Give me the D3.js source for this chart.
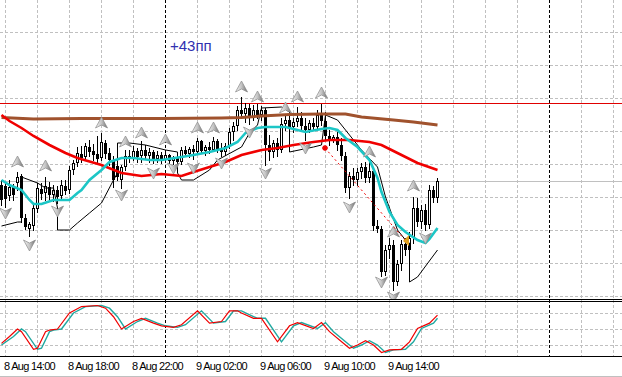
<!DOCTYPE html>
<html>
<head>
<meta charset="utf-8">
<script src="https://d3js.org/d3.v7.min.js"></script>
<style>
  body { margin: 0; background: #fff; }
  svg { display: block; }
  text { font-family: "Liberation Sans", Arial, sans-serif; }
</style>
</head>
<body>
<div id="chart"></div>
<script>
// M15 bars, first one is 8 Aug 13:45
const open = [1.1215,1.1214,1.1204,1.1213,1.1217,1.1224,1.1182,1.1171,1.1174,1.1191,
  1.1211,1.1207,1.1213,1.1205,1.1210,1.1204,1.1214,1.1210,1.1230,1.1237,
  1.1246,1.1243,1.1253,1.1249,1.1246,1.1242,1.1257,1.1247,1.1240,1.1234,
  1.1220,1.1233,1.1244,1.1242,1.1249,1.1244,1.1250,1.1244,1.1248,1.1241,
  1.1245,1.1240,1.1245,1.1239,1.1242,1.1238,1.1250,1.1246,1.1251,1.1248,
  1.1259,1.1249,1.1253,1.1250,1.1259,1.1251,1.1248,1.1254,1.1268,1.1274,
  1.1290,1.1286,1.1292,1.1282,1.1290,1.1285,1.1290,1.1255,1.1248,1.1257,
  1.1250,1.1276,1.1280,1.1273,1.1278,1.1282,1.1274,1.1270,1.1277,1.1273,
  1.1285,1.1279,1.1264,1.1260,1.1263,1.1255,1.1244,1.1212,1.1224,1.1220,
  1.1228,1.1233,1.1222,1.1229,1.1174,1.1171,1.1128,1.1150,1.1155,1.1118,
  1.1136,1.1156,1.1150,1.1162,1.1192,1.1178,1.1190,1.1175,1.1210,1.1202];
const high = [1.1220,1.1217,1.1220,1.1216,1.1228,1.1226,1.1186,1.1178,1.1195,1.1217,
  1.1217,1.1223,1.1218,1.1215,1.1214,1.1220,1.1220,1.1234,1.1240,1.1253,
  1.1254,1.1257,1.1260,1.1256,1.1264,1.1267,1.1260,1.1252,1.1244,1.1238,
  1.1235,1.1250,1.1250,1.1254,1.1252,1.1259,1.1255,1.1252,1.1250,1.1249,
  1.1248,1.1250,1.1246,1.1244,1.1244,1.1253,1.1254,1.1253,1.1255,1.1262,
  1.1260,1.1255,1.1258,1.1263,1.1261,1.1257,1.1257,1.1272,1.1278,1.1294,
  1.1303,1.1297,1.1296,1.1295,1.1296,1.1294,1.1292,1.1265,1.1260,1.1262,
  1.1282,1.1285,1.1284,1.1282,1.1293,1.1288,1.1282,1.1280,1.1282,1.1290,
  1.1296,1.1288,1.1270,1.1265,1.1268,1.1262,1.1248,1.1228,1.1232,1.1232,
  1.1237,1.1238,1.1238,1.1232,1.1180,1.1174,1.1155,1.1162,1.1160,1.1140,
  1.1160,1.1162,1.1168,1.1203,1.1202,1.1195,1.1196,1.1215,1.1214,1.1222];
const low = [1.1195,1.1193,1.1200,1.1200,1.1210,1.1178,1.1171,1.1164,1.1170,1.1188,
  1.1201,1.1200,1.1201,1.1199,1.1197,1.1201,1.1206,1.1207,1.1226,1.1234,
  1.1238,1.1240,1.1244,1.1240,1.1237,1.1240,1.1242,1.1235,1.1213,1.1220,
  1.1212,1.1230,1.1238,1.1240,1.1238,1.1238,1.1242,1.1238,1.1237,1.1238,
  1.1237,1.1238,1.1237,1.1236,1.1235,1.1236,1.1244,1.1243,1.1241,1.1246,
  1.1247,1.1245,1.1247,1.1249,1.1248,1.1244,1.1245,1.1252,1.1260,1.1270,
  1.1282,1.1278,1.1276,1.1280,1.1282,1.1280,1.1235,1.1240,1.1243,1.1244,
  1.1248,1.1270,1.1270,1.1268,1.1274,1.1270,1.1260,1.1268,1.1270,1.1272,
  1.1275,1.1260,1.1255,1.1258,1.1250,1.1240,1.1208,1.1202,1.1215,1.1215,
  1.1222,1.1218,1.1218,1.1170,1.1168,1.1124,1.1125,1.1142,1.1110,1.1115,
  1.1130,1.1145,1.1146,1.1157,1.1174,1.1172,1.1170,1.1172,1.1198,1.1198];
const close = [1.1200,1.1201,1.1213,1.1205,1.1223,1.1182,1.1173,1.1176,1.1192,1.1212,
  1.1206,1.1214,1.1205,1.1210,1.1203,1.1215,1.1209,1.1230,1.1237,1.1247,
  1.1242,1.1254,1.1248,1.1245,1.1241,1.1258,1.1246,1.1240,1.1220,1.1223,
  1.1233,1.1244,1.1242,1.1249,1.1243,1.1250,1.1244,1.1248,1.1241,1.1245,
  1.1240,1.1245,1.1239,1.1242,1.1238,1.1250,1.1246,1.1251,1.1248,1.1259,
  1.1249,1.1253,1.1250,1.1259,1.1251,1.1248,1.1254,1.1268,1.1274,1.1290,
  1.1286,1.1292,1.1282,1.1290,1.1285,1.1290,1.1255,1.1248,1.1257,1.1250,
  1.1276,1.1280,1.1273,1.1278,1.1282,1.1274,1.1270,1.1277,1.1273,1.1285,
  1.1279,1.1264,1.1260,1.1263,1.1255,1.1244,1.1212,1.1224,1.1220,1.1228,
  1.1233,1.1222,1.1229,1.1174,1.1171,1.1128,1.1150,1.1155,1.1118,1.1136,
  1.1156,1.1150,1.1162,1.1192,1.1178,1.1190,1.1175,1.1210,1.1202,1.1219];

// moving averages as [bar, price]
const maSlow = [[0,1.12825],[8,1.1281],[20,1.12815],[40,1.12815],[55,1.1282],[60,1.12825],
  [65,1.1284],[72,1.12855],[80,1.1286],[86,1.1286],[90,1.1283],[98,1.1280],[103,1.1278],[109,1.1275]];
const maMid = [[0,1.1285],[2,1.1279],[5,1.1272],[8,1.1264],[12,1.1255],[16,1.1247],[19,1.1242],
  [25,1.1235],[30,1.1227],[35,1.1224],[40,1.1226],[45,1.1224],[48,1.1228],[52,1.1233],[56,1.1238],
  [60,1.1245],[65,1.1250],[69,1.1252],[73,1.1255],[78,1.1258],[82,1.1260],[87,1.1260],[92,1.1258],
  [95,1.1255],[100,1.1245],[104,1.1237],[109,1.1230]];
const maFast = [[0,1.1220],[2,1.1215],[5,1.1210],[7,1.1200],[8,1.1196],[10,1.1196],[13,1.1200],
  [17,1.1200],[19,1.1207],[20,1.1210],[22,1.1220],[25,1.1230],[27,1.1238],[30,1.1242],[33,1.1242],
  [37,1.1240],[40,1.1240],[45,1.1243],[48,1.1245],[52,1.1248],[56,1.1252],[59,1.1258],[61,1.1267],
  [64,1.1272],[66,1.1273],[71,1.1273],[74,1.1270],[76,1.1268],[80,1.1271],[82,1.1272],[84,1.1270],
  [86,1.1262],[89,1.1253],[92,1.1240],[94,1.1222],[95,1.1208],[97,1.1188],[99,1.1175],[101,1.1168],
  [104,1.1160],[106,1.1157],[107,1.1161],[109,1.1172]];
// thin stop line, flips side of price
const stopLine = [[0,1.1174],[4,1.1178],[5,1.1178],[5,1.1223],[9,1.1217],[11,1.1212],[13,1.1212],
  [14,1.1192],[14,1.1170],[17,1.1170],[19,1.1177],[22,1.1187],[25,1.1197],[28,1.1220],[29,1.1227],
  [29,1.1257],[32,1.1257],[36,1.1255],[41,1.1250],[44,1.1248],[44,1.1227],[45,1.1220],[48,1.1220],
  [52,1.1230],[54,1.1240],[60,1.1253],[62,1.1267],[64,1.1275],[65,1.1292],[70,1.1293],[72,1.1288],
  [72,1.1248],[78,1.1253],[80,1.1255],[81,1.1285],[84,1.1280],[87,1.1265],[90,1.1250],[94,1.1233],
  [96,1.1203],[99,1.1170],[101,1.1160],[102,1.1157],[102,1.1118],[104,1.1123],[109,1.1150]];

const arrowsUp = [[4,1.1238],[11,1.1234],[25,1.1277],[31,1.1258],[35,1.1267],[41,1.1260],
  [49,1.1272],[53,1.1272],[60,1.1313],[64,1.1303],[71,1.1292],[74,1.1303],[80,1.1307],
  [92,1.1248],[98,1.1168],[103,1.1214]];
const arrowsDown = [[1,1.1187],[7,1.1155],[14,1.1189],[30,1.1205],[38,1.1227],[43,1.1232],
  [48,1.1232],[55,1.1237],[62,1.1268],[66,1.1227],[76,1.1252],[87,1.1193],[95,1.1118],
  [98,1.1103],[106,1.1162]];

const tradeOpen = [81, 1.1252];
const tradeClose = [101, 1.1160];
const levelLine = 1.1297;
const note = "+43пп";

// oscillator sub window, [bar, value]
const oscMain = [[0,23],[2,36],[4,50],[5,45],[8,12],[9,14],[11,45],[12,48],[14,50],[17,80],
  [20,92],[24,94],[26,89],[28,73],[30,50],[33,64],[35,70],[38,61],[40,56],[43,53],[45,58],
  [49,84],[52,61],[55,64],[57,84],[59,84],[60,80],[63,70],[65,70],[69,26],[72,56],[74,62],
  [78,51],[80,62],[82,45],[86,20],[87,14],[89,20],[91,28],[93,20],[95,6],[97,11],[100,12],
  [102,26],[104,51],[107,61],[109,76]];
const oscSignal = [[0,20],[3,36],[5,50],[6,45],[9,12],[10,14],[12,45],[13,48],[15,50],[18,80],
  [21,92],[25,94],[27,89],[29,73],[31,50],[34,64],[36,70],[39,61],[41,56],[44,53],[46,58],
  [50,84],[53,61],[56,64],[58,84],[60,84],[61,80],[64,70],[66,70],[70,26],[73,56],[75,62],
  [79,51],[81,62],[83,45],[87,20],[88,14],[90,20],[92,28],[94,20],[96,6],[98,11],[101,12],
  [103,26],[105,51],[108,61],[109,70]];
const oscLevels = [20, 50, 80];

const timeLabels = ["8 Aug 14:00","8 Aug 18:00","8 Aug 22:00","9 Aug 02:00","9 Aug 06:00","9 Aug 10:00","9 Aug 14:00"];
const labelBars = [1, 17, 33, 49, 65, 81, 97];
const daySeparators = [41, 137];

const width = 622, height = 377;
const mainBottom = 299, subTop = 301, subBottom = 356;

const svg = d3.select("#chart").append("svg")
  .attr("width", width).attr("height", height)
  .style("background", "#fff");

const x = d3.scaleLinear().domain([0, 155]).range([1, 621]);
const y = d3.scaleLinear().domain([1.1400 - mainBottom / 10000, 1.1400]).range([mainBottom, 0]);
const yo = d3.scaleLinear().domain([0, 100]).range([355.7, 302.3]);

const defs = svg.append("defs");
defs.append("clipPath").attr("id", "clipMain")
  .append("rect").attr("x", 0).attr("y", 0).attr("width", width).attr("height", mainBottom);
defs.append("clipPath").attr("id", "clipSub")
  .append("rect").attr("x", 0).attr("y", subTop + 1).attr("width", width).attr("height", subBottom - subTop - 1);
const grad = defs.append("linearGradient").attr("id", "arrowFill")
  .attr("x1", 0).attr("x2", 1).attr("y1", 0).attr("y2", 0);
grad.append("stop").attr("offset", "0%").attr("stop-color", "#f4f4f4");
grad.append("stop").attr("offset", "50%").attr("stop-color", "#c4c4c4");
grad.append("stop").attr("offset", "100%").attr("stop-color", "#6e6e6e");

const px = v => Math.round(v) + 0.5;

// grid
const gridX = d3.range(1, 155, 8);
const gridPrices = d3.range(0, 9).map(k => 1.1104 + k * 0.0033);

const grid = svg.append("g").attr("stroke", "#c0c0c0").attr("stroke-dasharray", "3,2")
  .attr("shape-rendering", "crispEdges");
grid.selectAll(".gh").data(gridPrices).join("line")
  .attr("x1", 0).attr("x2", width)
  .attr("y1", d => px(y(d))).attr("y2", d => px(y(d)));
grid.selectAll(".go").data(oscLevels).join("line")
  .attr("x1", 0).attr("x2", width)
  .attr("y1", d => px(yo(d))).attr("y2", d => px(yo(d)));
grid.selectAll(".gv").data(gridX.filter(b => !daySeparators.includes(b))).join("line")
  .attr("x1", d => px(x(d))).attr("x2", d => px(x(d)))
  .attr("y1", 0).attr("y2", subBottom);

svg.append("g").attr("stroke", "#000").attr("stroke-dasharray", "3,2")
  .attr("shape-rendering", "crispEdges")
  .selectAll("line").data(daySeparators).join("line")
  .attr("x1", d => px(x(d))).attr("x2", d => px(x(d)))
  .attr("y1", 0).attr("y2", subBottom);

// window borders
svg.append("g").attr("stroke", "#000").attr("shape-rendering", "crispEdges")
  .selectAll("line").data([mainBottom, subTop, subBottom]).join("line")
  .attr("x1", 0).attr("x2", width)
  .attr("y1", d => d + 0.5).attr("y2", d => d + 0.5);
svg.append("line").attr("x1", 0).attr("x2", width).attr("y1", 376.5).attr("y2", 376.5)
  .attr("stroke", "#c0c0c0");

const main = svg.append("g").attr("clip-path", "url(#clipMain)");

// horizontal level and bid line
main.append("line").attr("x1", 0).attr("x2", width)
  .attr("y1", px(y(levelLine))).attr("y2", px(y(levelLine)))
  .attr("stroke", "#e00000").attr("shape-rendering", "crispEdges");
const lastClose = close[close.length - 1];
main.append("line").attr("x1", 0).attr("x2", width)
  .attr("y1", px(y(lastClose))).attr("y2", px(y(lastClose)))
  .attr("stroke", "#c0c0c0").attr("shape-rendering", "crispEdges");

// candles
const bars = open.map((o, i) => ({ i: i, o: o, h: high[i], l: low[i], c: close[i] }));
const candles = main.append("g").attr("shape-rendering", "crispEdges");
candles.selectAll(".wick").data(bars).join("line")
  .attr("x1", d => x(d.i) + 0.5).attr("x2", d => x(d.i) + 0.5)
  .attr("y1", d => Math.round(y(d.h))).attr("y2", d => Math.round(y(d.l)) + 1)
  .attr("stroke", "#000");
candles.selectAll(".body").data(bars).join("rect")
  .attr("x", d => d.c >= d.o ? x(d.i) - 0.5 : x(d.i) - 1)
  .attr("width", d => d.c >= d.o ? 2 : 3)
  .attr("y", d => {
    const top = Math.round(y(Math.max(d.o, d.c)));
    return d.c >= d.o ? top + 0.5 : top;
  })
  .attr("height", d => {
    const h = Math.round(y(Math.min(d.o, d.c))) - Math.round(y(Math.max(d.o, d.c)));
    return d.c >= d.o ? Math.max(h - 1, 0) : Math.max(h, 1);
  })
  .attr("fill", d => d.c >= d.o ? "#fff" : "#000")
  .attr("stroke", d => d.c >= d.o ? "#000" : "none");

// indicator lines
const line = d3.line().x(d => x(d[0]) + 0.5).y(d => y(d[1]));
main.append("path").datum(stopLine).attr("d", line)
  .attr("fill", "none").attr("stroke", "#000").attr("stroke-width", 1);
main.append("path").datum(maSlow).attr("d", line)
  .attr("fill", "none").attr("stroke", "#a0522d").attr("stroke-width", 3);
main.append("path").datum(maMid).attr("d", line)
  .attr("fill", "none").attr("stroke", "#f00000").attr("stroke-width", 2.6);
main.append("path").datum(maFast).attr("d", line)
  .attr("fill", "none").attr("stroke", "#1cc6c6").attr("stroke-width", 2.6);

// arrow objects
const upShape = "M0,-6L6,5L0,2L-6,5Z";
const downShape = "M0,6L6,-5L0,-2L-6,-5Z";
main.append("g").selectAll("path").data(arrowsUp).join("path")
  .attr("d", upShape)
  .attr("transform", d => `translate(${x(d[0]) + 0.5},${y(d[1])})`)
  .attr("fill", "url(#arrowFill)").attr("stroke", "#8a8a8a").attr("stroke-width", 0.7);
main.append("g").selectAll("path").data(arrowsDown).join("path")
  .attr("d", downShape)
  .attr("transform", d => `translate(${x(d[0]) + 0.5},${y(d[1])})`)
  .attr("fill", "url(#arrowFill)").attr("stroke", "#8a8a8a").attr("stroke-width", 0.7);

// closed trade
main.append("line")
  .attr("x1", x(tradeOpen[0])).attr("y1", y(tradeOpen[1]))
  .attr("x2", x(tradeClose[0])).attr("y2", y(tradeClose[1]))
  .attr("stroke", "#f00000").attr("stroke-width", 1).attr("stroke-dasharray", "2,3");
main.append("path")
  .attr("d", "M-3,0L3,0M0,-3L0,3M-2,-2L2,2M-2,2L2,-2")
  .attr("transform", `translate(${x(tradeOpen[0])},${y(tradeOpen[1])})`)
  .attr("stroke", "#f00000").attr("stroke-width", 1.4);
main.append("path")
  .attr("d", "M-3,1L3,-5L3,6Z")
  .attr("transform", `translate(${x(tradeClose[0]) + 1},${y(tradeClose[1])})`)
  .attr("fill", "#e0a020");

main.append("text").attr("x", 170).attr("y", 51)
  .attr("font-size", 15).attr("fill", "#3030b0").text(note);

// oscillator
const sub = svg.append("g").attr("clip-path", "url(#clipSub)");
const oscLine = d3.line().x(d => x(d[0]) + 0.5).y(d => yo(d[1]));
sub.append("path").datum(oscSignal).attr("d", oscLine)
  .attr("fill", "none").attr("stroke", "#20a8a0").attr("stroke-width", 1.4);
sub.append("path").datum(oscMain).attr("d", oscLine)
  .attr("fill", "none").attr("stroke", "#f00000").attr("stroke-width", 1.2);

// time labels
svg.append("g").selectAll("text").data(timeLabels).join("text")
  .attr("x", (d, k) => x(labelBars[k]) - 1)
  .attr("y", 369.5)
  .attr("font-size", 11)
  .attr("letter-spacing", -0.7)
  .attr("fill", "#000")
  .text(d => d);
</script>
</body>
</html>
